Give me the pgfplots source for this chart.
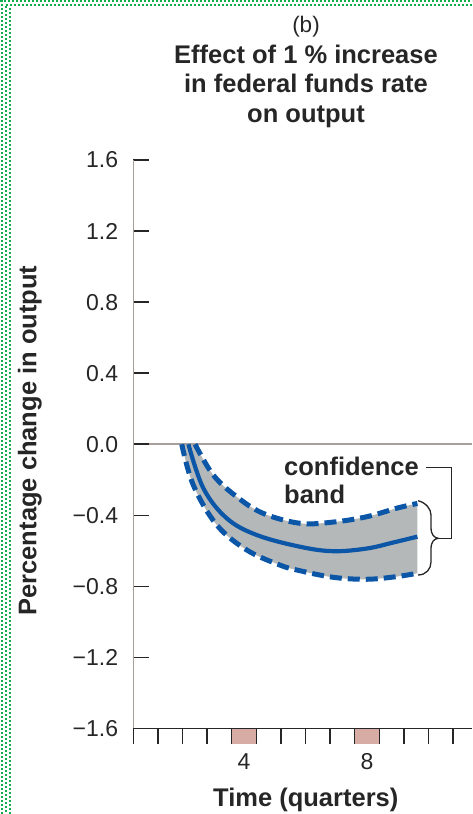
\documentclass[border=0pt]{standalone}
\usepackage{fontspec}
\setmainfont{Liberation Sans}
\usepackage{pgfplots}
\pgfplotsset{compat=1.18}
\usepgfplotslibrary{fillbetween}
\definecolor{bandgray}{RGB}{181,184,184}
\definecolor{curveblue}{RGB}{12,86,168}
\definecolor{zgray}{RGB}{168,158,154}
\definecolor{boxpink}{RGB}{214,172,164}
\definecolor{bordergreen}{RGB}{20,172,80}
\newcommand\bfnt{\fontsize{25.5}{30}\selectfont\bfseries}
\newcommand\tfnt{\fontsize{23}{26}\selectfont}
\begin{document}
\begin{tikzpicture}[x=1pt,y=1pt]
% decorative dotted border
\begin{scope}[bordergreen, line width=2pt]
\draw[dash pattern=on 2pt off 2pt] (1.8,0) -- (1.8,814);
\draw[dash pattern=on 2pt off 2pt, dash phase=2pt] (5.8,0) -- (5.8,810);
\draw[dash pattern=on 2pt off 2pt] (9.8,0) -- (9.8,806);
\draw[dash pattern=on 2pt off 2pt] (0,812.5) -- (472,812.5);
\draw[dash pattern=on 2pt off 2pt, dash phase=2pt] (4,808.5) -- (472,808.5);
\end{scope}
\begin{axis}[
  at={(133.3pt,85.5pt)}, anchor=south west,
  scale only axis, width=338.7pt, height=568.5pt,
  xmin=0, xmax=13.77, ymin=-1.6, ymax=1.6,
  axis x line=bottom, axis y line=left,
  x axis line style={-, draw=black!85, line width=1.5pt},
  y axis line style={-, draw=zgray, line width=1.5pt},
  xtick={0,1,2,3,4,5,6,7,8,9,10,11,12,13}, xticklabels={},
  extra x ticks={4.5,9.5}, extra x tick labels={4,8},
  extra x tick style={major tick length=0pt, xticklabel style={yshift=-24.5pt}},
  ytick={-1.6,-1.2,-0.8,-0.4,0,0.4,0.8,1.2,1.6},
  yticklabels={−1.6,−1.2,−0.8,−0.4,0.0,0.4,0.8,1.2,1.6},
  xtick align=outside, ytick align=inside,
  major tick length=15.5pt,
  tick style={draw=black!85, line width=1.5pt},
  ticklabel style={font=\tfnt, inner sep=0pt, text=black!85},
  yticklabel style={xshift=-15pt},
  axis on top, clip=false,
]
% pink quarter boxes
\addplot[fill=boxpink, draw=none] coordinates {(4,-1.6) (5,-1.6) (5,-1.687) (4,-1.687)} -- cycle;
\addplot[fill=boxpink, draw=none] coordinates {(9,-1.6) (10,-1.6) (10,-1.687) (9,-1.687)} -- cycle;
% band edges
\addplot[draw=none, smooth, tension=0.6, name path=upper] coordinates {
 (2.51,0) (3.25,-0.173) (4.2,-0.295) (5.28,-0.389) (6.78,-0.445) (8.13,-0.438) (9.49,-0.408) (10.71,-0.36) (11.55,-0.333)};
\addplot[draw=none, smooth, tension=0.6, name path=lower] coordinates {
 (1.97,0) (2.44,-0.23) (3.39,-0.454) (4.61,-0.595) (5.96,-0.68) (6.78,-0.712) (8.13,-0.749) (9.49,-0.76) (10.71,-0.745) (11.55,-0.726)};
\addplot[bandgray, draw=none] fill between[of=upper and lower];
% zero line
\addplot[draw=zgray, line width=1.5pt] coordinates {(0,0) (13.77,0)};
% dashed bounds
\addplot[curveblue, line width=5pt, dash pattern=on 12pt off 6pt, smooth, tension=0.6] coordinates {
 (2.51,0) (3.25,-0.173) (4.2,-0.295) (5.28,-0.389) (6.78,-0.445) (8.13,-0.438) (9.49,-0.408) (10.71,-0.36) (11.55,-0.333)};
\addplot[curveblue, line width=5pt, dash pattern=on 12pt off 6pt, smooth, tension=0.6] coordinates {
 (1.97,0) (2.44,-0.23) (3.39,-0.454) (4.61,-0.595) (5.96,-0.68) (6.78,-0.712) (8.13,-0.749) (9.49,-0.76) (10.71,-0.745) (11.55,-0.726)};
% central estimate
\addplot[curveblue, line width=4.2pt, smooth, tension=0.6] coordinates {
 (2.24,0) (2.85,-0.248) (3.8,-0.417) (5.02,-0.511) (6.78,-0.577) (8.13,-0.602) (9.49,-0.587) (10.57,-0.553) (11.55,-0.52)};
\end{axis}
% brace and bracket
\draw[black!85, line width=1.3pt] (418,313.3) .. controls (426,311.3) and (431,305) .. (431,299)
  -- (431,287) .. controls (431,279) and (434,276.5) .. (438.3,275.7)
  .. controls (434,275) and (431,272.5) .. (431,264.7)
  -- (431,252) .. controls (431,245) and (426,239) .. (418,239);
\draw[black!85, line width=1.3pt] (438.3,275.7) -- (451.7,275.7) -- (451.7,346.7) -- (426,346.7);
% annotation text
\node[anchor=base west, inner sep=0pt, font=\bfnt, text=black!85] at (284,814-475.5) {confidence};
\node[anchor=base west, inner sep=0pt, font=\bfnt, text=black!85] at (284,814-504) {band};
% titles
\node[anchor=base, inner sep=0pt, font=\fontsize{22.5}{26}\selectfont, text=black!85] at (306,814-32.1) {(b)};
\node[anchor=base, inner sep=0pt, font=\bfnt, text=black!85] at (306,814-63.3) {Effect of 1 \% increase};
\node[anchor=base, inner sep=0pt, font=\bfnt, text=black!85] at (306,814-92.7) {in federal funds rate};
\node[anchor=base, inner sep=0pt, font=\bfnt, text=black!85] at (306,814-122.5) {on output};
% axis labels
\node[anchor=base, inner sep=0pt, font=\bfnt, text=black!85] at (305.8,814-806.5) {Time (quarters)};
\node[anchor=base, inner sep=0pt, rotate=90, font=\bfnt, text=black!85] at (36.3,814-440.5) {Percentage change in output};
\pgfresetboundingbox
\useasboundingbox (0,0) rectangle (472,814);
\end{tikzpicture}
\end{document}
